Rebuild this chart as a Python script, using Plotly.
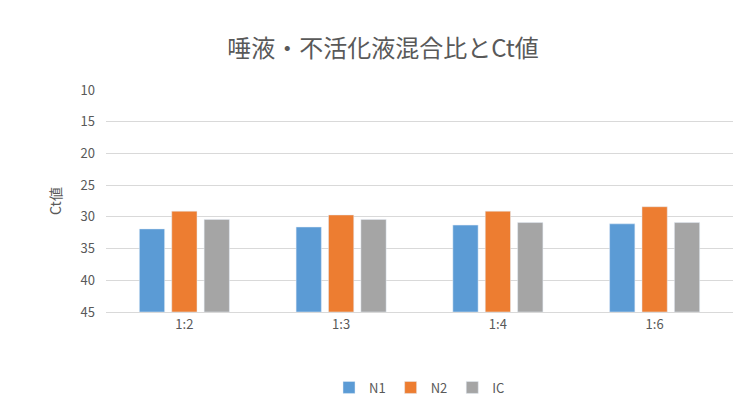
import plotly.graph_objects as go

categories = ["1:2", "1:3", "1:4", "1:6"]
n1 = [31.9, 31.6, 31.3, 31.1]
n2 = [29.1, 29.7, 29.1, 28.4]
ic = [30.4, 30.4, 30.9, 30.9]
base_val = 45

fig = go.Figure()
for name, vals, col in [("N1", n1, "#5B9BD5"), ("N2", n2, "#ED7D31"), ("IC", ic, "#A5A5A5")]:
    fig.add_trace(go.Bar(x=categories, y=[v - base_val for v in vals], base=base_val,
                         name=name, marker_color=col,
                         hovertext=[str(v) for v in vals]))

fig.update_layout(
    width=750, height=408, paper_bgcolor="white", plot_bgcolor="white",
    font=dict(family="Noto Sans CJK JP", color="#595959", size=13),
    title=dict(text="唾液・不活化液混合比とCt値", x=0.5, y=0.9, yanchor="middle", xanchor="center",
               font=dict(size=24, color="#595959")),
    margin=dict(l=98, r=25, t=82, b=104),
    bargap=0.38, bargroupgap=0.22,
    legend=dict(orientation="h", x=0.5, xanchor="center", y=-0.34, yanchor="middle",
                font=dict(size=13)),
    showlegend=True,
)
fig.update_yaxes(range=[45, 10], tickvals=[10, 15, 20, 25, 30, 35, 40, 45],
                 gridcolor="#D9D9D9", showline=False, zeroline=False,
                 title=dict(text="Ct値", font=dict(size=14)), ticklabelstandoff=10)
fig.update_xaxes(showline=True, linecolor="#D9D9D9", ticks="")
fig.write_html("out.html")
